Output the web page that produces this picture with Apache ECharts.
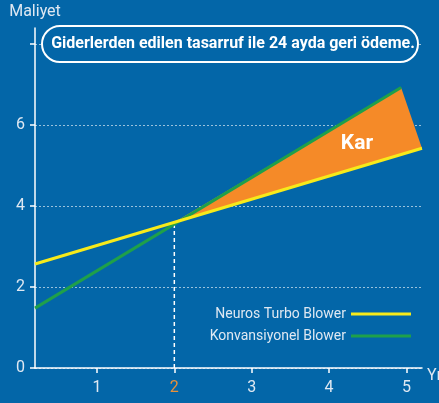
<!DOCTYPE html>
<html><head><meta charset="utf-8">
<script src="https://cdn.jsdelivr.net/npm/echarts@6/dist/echarts.min.js"></script>
<style>html,body{margin:0;padding:0;background:#0366a8;}#c{width:439px;height:403px;}</style>
</head><body><div id="c"></div>
<script>
const TFONT = "Roboto,sans-serif";
const xTicks = [1, 2, 3, 4, 5];
const yTicks = [0, 2, 4, 6, 8];
const yLabels = [0, 2, 4, 6];
const paybackYear = 2;
const neuros = [[0.2, 2.57], [5.2, 5.43]];
const konvansiyonel = [[0.2, 1.48], [4.93, 6.93]];
const karArea = [[2, 3.6], [4.93, 6.93], [5.2, 5.43]];
const paybackLine = [[2, 0], [2, 3.6]];
const seriesNames = ['Neuros Turbo Blower', 'Konvansiyonel Blower'];
const titleText = 'Giderlerden edilen tasarruf ile 24 ayda geri ödeme.';

const chart = echarts.init(document.getElementById('c'));
const labelColor = '#dfe8f2';
chart.setOption({
  backgroundColor: '#0366a8',
  animation: false,
  grid: { left: 35, right: 17, top: 28, bottom: 35, outerBoundsMode: 'none', containLabel: false },
  legend: {
    data: seriesNames,
    orient: 'vertical', right: 23, top: 302,
    align: 'right', icon: 'rect', itemWidth: 60, itemHeight: 3, itemGap: 8,
    textStyle: { color: labelColor, fontFamily: TFONT, fontSize: 14 }
  },
  xAxis: {
    type: 'value', min: 0.2, max: 5.2,
    name: 'Yıl', nameLocation: 'end', nameGap: 5,
    nameTextStyle: { color: labelColor, fontFamily: TFONT, fontSize: 16, align: 'left', verticalAlign: 'top', padding: [0, 0, 0, 0] },
    axisLine: { lineStyle: { color: '#fff', width: 1.5 } },
    axisTick: { show: true, length: 5, customValues: xTicks, lineStyle: { color: '#fff', width: 1.5 } },
    axisLabel: {
      customValues: xTicks, margin: 12, fontFamily: TFONT, fontSize: 16, color: labelColor,
      formatter: v => v === paybackYear ? '{o|' + v + '}' : String(v),
      rich: { o: { color: '#e8913a', fontFamily: TFONT, fontSize: 16 } }
    },
    splitLine: { show: false }
  },
  yAxis: {
    type: 'value', min: 0, max: 8.4, interval: 2,
    name: 'Maliyet', nameLocation: 'end', nameGap: 8,
    nameTextStyle: { color: labelColor, fontFamily: TFONT, fontSize: 16 },
    axisLine: { show: true, lineStyle: { color: '#fff', width: 1.5 } },
    axisTick: { show: true, length: 5, customValues: yTicks, lineStyle: { color: '#fff', width: 1.5 } },
    axisLabel: { customValues: yLabels, fontFamily: TFONT, fontSize: 16, color: labelColor, margin: 10 },
    splitLine: { show: true, lineStyle: { color: 'rgba(255,255,255,0.6)', type: [2, 2], width: 1 } }
  },
  graphic: [
    { type: 'rect', shape: { x: 42, y: 26, width: 376, height: 36, r: 18 }, style: { fill: '#0366a8', stroke: '#fff', lineWidth: 2 }, z: 100 },
    { type: 'text', x: 233, y: 44, style: { text: titleText, fill: '#fff', font: 'bold 16px ' + TFONT, align: 'center', verticalAlign: 'middle' }, z: 101 },
    { type: 'text', x: 357, y: 144, style: { text: 'Kar', fill: '#fff', font: 'bold 21px ' + TFONT, align: 'center', verticalAlign: 'middle' }, z: 101 }
  ],
  series: [
    {
      type: 'custom', name: 'Kar', silent: true, data: karArea, z: 1,
      renderItem: (params, api) => {
        if (params.dataIndex !== 0) return null;
        const pts = karArea.map(p => api.coord(p));
        return { type: 'polygon', shape: { points: pts }, style: { fill: '#f58a28' } };
      }
    },
    { type: 'line', name: 'payback', data: paybackLine, showSymbol: false, silent: true, z: 2,
      lineStyle: { color: '#fff', width: 1.5, type: [4, 3] } },
    { type: 'line', name: seriesNames[1], data: konvansiyonel, showSymbol: false, z: 3,
      lineStyle: { color: '#1fa04a', width: 3 }, itemStyle: { color: '#1fa04a' } },
    { type: 'line', name: seriesNames[0], data: neuros, showSymbol: false, z: 4,
      lineStyle: { color: '#f7ea1a', width: 3 }, itemStyle: { color: '#f7ea1a' } }
  ]
});
</script></body></html>
